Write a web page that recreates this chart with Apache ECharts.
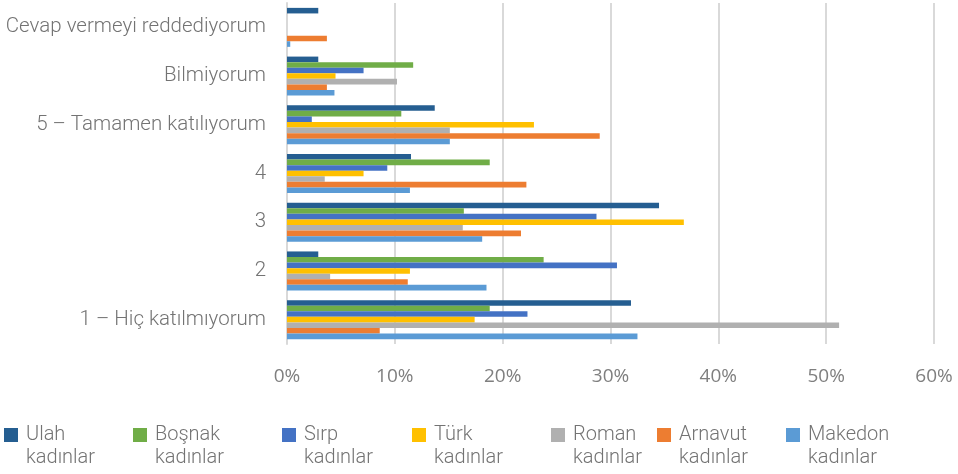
<!DOCTYPE html>
<html>
<head>
<meta charset="utf-8">
<script src="https://cdn.jsdelivr.net/npm/echarts@6/dist/echarts.min.js"></script>
<style>html,body{margin:0;padding:0;background:#fff}#c{width:958px;height:474px}</style>
</head>
<body>
<div id="c"></div>
<script>
// Categories, bottom to top as on the axis
const categories = ["1 – Hiç katılmıyorum", "2", "3", "4", "5 – Tamamen katılıyorum", "Bilmiyorum", "Cevap vermeyi reddediyorum"];
const ulah    = [31.9, 2.9, 34.5, 11.5, 13.7, 2.9, 2.9];
const bosnak  = [18.8, 23.8, 16.4, 18.8, 10.6, 11.7, 0];
const sirp    = [22.3, 30.6, 28.7, 9.3, 2.3, 7.1, 0];
const turk    = [17.4, 11.4, 36.8, 7.1, 22.9, 4.5, 0];
const roman   = [51.2, 4.0, 16.3, 3.5, 15.1, 10.2, 0];
const arnavut = [8.6, 11.2, 21.7, 22.2, 29.0, 3.7, 3.7];
const makedon = [32.5, 18.5, 18.1, 11.4, 15.1, 4.4, 0.3];
const groupNames = ["Ulah", "Boşnak", "Sırp", "Türk", "Roman", "Arnavut", "Makedon"];
const suffix = "kadınlar";
const seriesData = [ulah, bosnak, sirp, turk, roman, arnavut, makedon];
const colors = ["#255e91", "#70ad47", "#4472c4", "#ffc000", "#b0b0b0", "#ed7d31", "#5b9bd5"];
const legendLeft = [4, 133, 282, 412, 551, 657, 786];

const chart = echarts.init(document.getElementById('c'), null, {renderer: 'canvas'});
const seriesNames = groupNames.map(g => g + ' ' + suffix);
const series = seriesNames.map((n, i) => ({
  name: n,
  type: 'bar',
  data: seriesData[i],
  itemStyle: {color: colors[i]},
  barGap: '0%',
  barCategoryGap: '20%'
}));
const textCommon = {fontFamily: 'Roboto', fontWeight: 300, fontSize: 20, color: '#737373'};
const legends = seriesNames.map((n, i) => ({
  data: [n],
  left: legendLeft[i],
  top: 425,
  padding: 0,
  itemWidth: 14,
  itemHeight: 14,
  icon: 'rect',
  formatter: () => groupNames[i],
  textStyle: Object.assign({padding: [0, 0, 0, 3]}, textCommon)
}));
const graphics = groupNames.map((g, i) => ({
  type: 'text',
  left: legendLeft[i] + 22,
  top: 448,
  style: {text: suffix, font: '300 20px Roboto', fill: '#737373'}
}));
chart.setOption({
  animation: false,
  color: colors,
  grid: {left: 287, right: 24, top: 3, bottom: 130, containLabel: false},
  legend: legends,
  graphic: graphics,
  xAxis: {
    type: 'value', min: 0, max: 60, interval: 10,
    axisLabel: {formatter: '{value}%', fontFamily: 'Open Sans', fontSize: 19, color: '#7f7f7f', margin: 23},
    splitLine: {show: true, lineStyle: {color: '#d9d9d9', width: 2}},
    axisLine: {show: false}, axisTick: {show: false}
  },
  yAxis: {
    type: 'category', data: categories,
    axisLabel: {fontFamily: 'Roboto', fontWeight: 300, fontSize: 20.5, color: '#737373', margin: 21},
    axisLine: {show: true, lineStyle: {color: '#d9d9d9', width: 2}},
    axisTick: {show: false}
  },
  series: series
});
</script>
</body>
</html>
